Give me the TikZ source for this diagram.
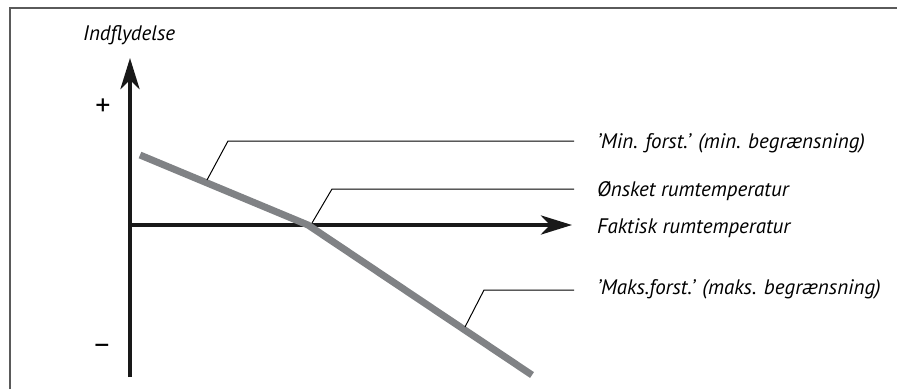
\documentclass[tikz,border=0pt]{standalone}
\usepackage{fontspec}
\setmainfont{PT Sans}
\usetikzlibrary{arrows.meta}
\definecolor{curvegray}{RGB}{128,130,133}
\definecolor{framegray}{RGB}{90,90,90}
\tikzset{
  lbl/.style={anchor=base west,inner sep=0pt,font=\itshape\fontsize{21}{24}\selectfont},
  sign/.style={inner sep=0pt,font=\fontsize{30}{32}\selectfont},
  axis/.style={line width=4.5pt,draw=black!90,-{Stealth[length=31pt,width=19pt,inset=9pt]}},
  leader/.style={line width=1pt}
}
\begin{document}
\begin{tikzpicture}[x=1pt,y=-1pt]
\useasboundingbox (0,0) rectangle (897,389);
\draw[framegray,line width=1.3pt] (10,389) -- (10,8) -- (897,8);

\coordinate (o) at (130,225);
\coordinate (ytop) at (130,58);
\coordinate (ybot) at (130,377);
\coordinate (xend) at (572,225);

\node[lbl] (infl) at (83,40) {Indflydelse};
\node[sign] (plus) at (103,107) {+};
\node[sign] (minus) at (102,350) {−};

\draw[axis] (ybot) -- (ytop);
\draw[axis] (128,225) -- (xend);

\coordinate (c1) at (140,155);
\coordinate (kink) at (308,225);
\coordinate (c2) at (532,375);
\draw[curvegray,line width=7pt] (c1) -- (kink) -- (c2);

\node[lbl] (min) at (597,148) {'Min. forst.' (min. begrænsning)};
\node[lbl] (set) at (597,196) {Ønsket rumtemperatur};
\node[lbl] (act) at (597,233) {Faktisk rumtemperatur};
\node[lbl] (max) at (597,294) {'Maks.forst.' (maks. begrænsning)};

\coordinate (m1) at (207,180);
\coordinate (s1) at (312,223);
\coordinate (x1) at (465,327);
\draw[leader] (m1) -- (228,141) -- (574,141);
\draw[leader] (s1) -- (332,189) -- (574,189);
\draw[leader] (x1) -- (484,290) -- (574,290);

\end{tikzpicture}
\end{document}
